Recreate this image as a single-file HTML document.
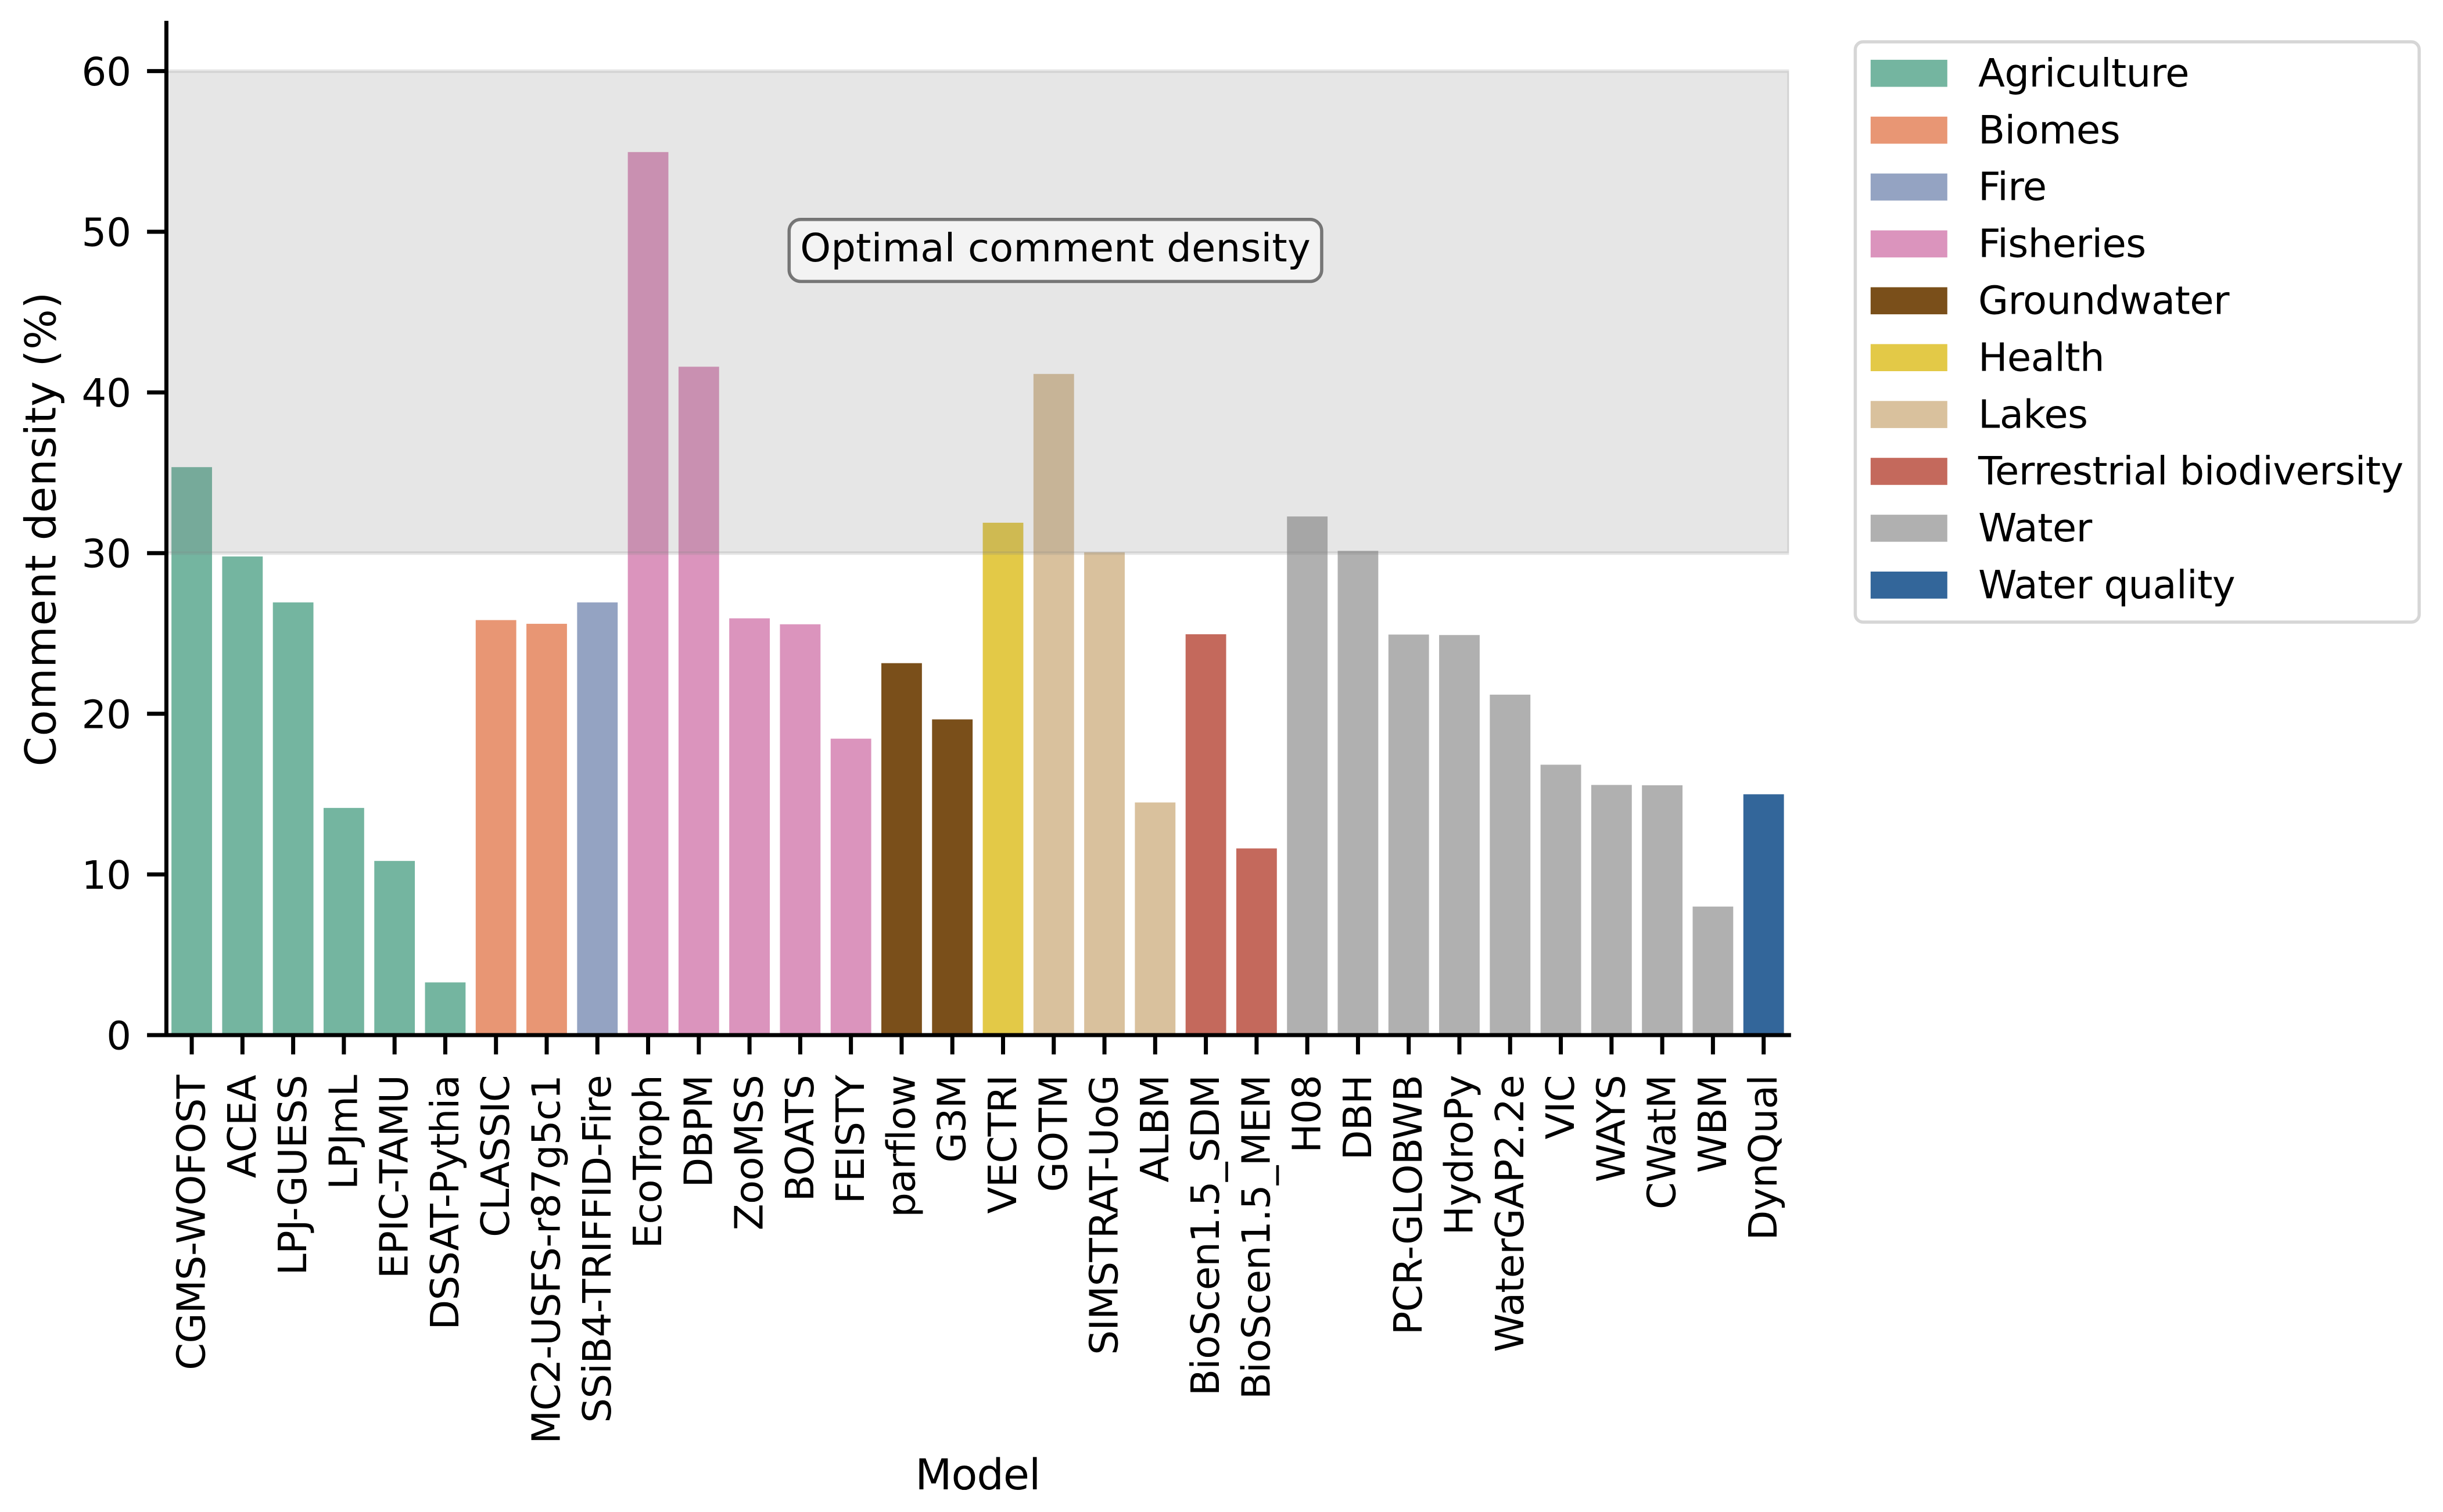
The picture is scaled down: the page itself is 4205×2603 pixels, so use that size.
<!DOCTYPE html>
<html lang="en">
<head>
<meta charset="utf-8">
<title>Comment density by model</title>
<style>
html,body{margin:0;padding:0;background:#fff;}
svg{display:block;}
text{font-family:"DejaVu Sans","Liberation Sans",sans-serif;fill:#000;text-rendering:geometricPrecision;}
</style>
</head>
<body>
<svg id="chart" xmlns="http://www.w3.org/2000/svg" width="4205" height="2603" viewBox="0 0 4205 2603"></svg>
<script>
var categories = ["CGMS-WOFOST","ACEA","LPJ-GUESS","LPJmL","EPIC-TAMU","DSSAT-Pythia","CLASSIC","MC2-USFS-r87g5c1","SSiB4-TRIFFID-Fire","EcoTroph","DBPM","ZooMSS","BOATS","FEISTY","parflow","G3M","VECTRI","GOTM","SIMSTRAT-UoG","ALBM","BioScen1.5_SDM","BioScen1.5_MEM","H08","DBH","PCR-GLOBWB","HydroPy","WaterGAP2.2e","VIC","WAYS","CWatM","WBM","DynQual"];
var commentDensity = [35.35,29.79,26.93,14.14,10.84,3.28,25.83,25.6,26.93,54.96,41.6,25.94,25.57,18.45,23.15,19.65,31.89,41.15,30.05,14.48,24.95,11.62,32.28,30.14,24.93,24.9,21.19,16.83,15.57,15.55,8.0,14.99];
var sectors = ["Agriculture","Agriculture","Agriculture","Agriculture","Agriculture","Agriculture","Biomes","Biomes","Fire","Fisheries","Fisheries","Fisheries","Fisheries","Fisheries","Groundwater","Groundwater","Health","Lakes","Lakes","Lakes","Terrestrial biodiversity","Terrestrial biodiversity","Water","Water","Water","Water","Water","Water","Water","Water","Water","Water quality"];
var legendLabels = ["Agriculture","Biomes","Fire","Fisheries","Groundwater","Health","Lakes","Terrestrial biodiversity","Water","Water quality"];
var legendColors = ["#74b5a0","#e89674","#94a3c2","#db94bd","#7a4f1a","#e3c947","#d9c19d","#c4695c","#b0b0b0","#33669a"];
var yTicks = [0,10,20,30,40,50,60];
var optimalRange = [30,60];
var yMax = 63;

var plotLeft = 286.4, plotRight = 3079.3, plotBottom = 1782, plotTop = 39.4;
var xStep = (plotRight - plotLeft) / categories.length;
var barWidth = xStep * 0.8;
var NS = "http://www.w3.org/2000/svg";
var svg = document.getElementById("chart");

function xScale(i){ return plotLeft + (i + 0.5) * xStep; }
function yScale(v){ return plotBottom - v * (plotBottom - plotTop) / yMax; }
function make(tag, attrs, parent){
  var el = document.createElementNS(NS, tag);
  for (var k in attrs) el.setAttribute(k, attrs[k]);
  (parent || svg).appendChild(el);
  return el;
}
function colorOf(sector){ return legendColors[legendLabels.indexOf(sector)]; }

/* clip */
var defs = make("defs", {});
var clip = make("clipPath", {id:"plot-clip"}, defs);
make("rect", {x:plotLeft, y:plotTop, width:plotRight-plotLeft, height:plotBottom-plotTop}, clip);

/* bars */
var barsGroup = make("g", {});


categories.forEach(function(name, i){
  var top = yScale(commentDensity[i]);
  var bar = make("rect", {x:xScale(i)-barWidth/2, y:top, width:barWidth, height:plotBottom-top, fill:colorOf(sectors[i])}, barsGroup);
  
  
});

/* optimal band */
var band = make("rect", {x:plotLeft, y:yScale(optimalRange[1]), width:plotRight-plotLeft, height:yScale(optimalRange[0])-yScale(optimalRange[1]), fill:"#808080", "fill-opacity":0.2, stroke:"#808080", "stroke-opacity":0.2, "stroke-width":6, "clip-path":"url(#plot-clip)"});



/* y ticks */
var yAxis = make("g", {});


yTicks.forEach(function(t){
  var y = yScale(t);
  var tick = make("line", {x1:plotLeft-33.3, x2:plotLeft, y1:y, y2:y, stroke:"#000", "stroke-width":7}, yAxis);
  
  
  var lab = make("text", {x:226, y:y+24.5, "text-anchor":"end", "font-size":67.2}, yAxis);
  lab.textContent = String(t);
  
  
});

/* x ticks */
var xAxis = make("g", {});


categories.forEach(function(name, i){
  var x = xScale(i);
  var tick = make("line", {x1:x, x2:x, y1:plotBottom, y2:plotBottom+33.3, stroke:"#000", "stroke-width":7}, xAxis);
  
  
  var bx = x + 22.5, by = 1851;
  var lab = make("text", {x:bx, y:by, "text-anchor":"end", "font-size":67.2, "letter-spacing":-0.72, transform:"rotate(-90 "+bx+" "+by+")"}, xAxis);
  lab.textContent = name;
  
  
});

/* spines */
var spineLeft = make("line", {x1:plotLeft, x2:plotLeft, y1:plotTop-3.5, y2:plotBottom+3.5, stroke:"#000", "stroke-width":7});


var spineBottom = make("line", {x1:plotLeft-3.5, x2:plotRight+3.5, y1:plotBottom, y2:plotBottom, stroke:"#000", "stroke-width":7});



/* axis titles */
var yTitle = make("text", {x:0, y:0, "text-anchor":"middle", "font-size":73.3, "letter-spacing":0.85, transform:"translate(95.5 910.7) rotate(-90)"});
yTitle.textContent = "Comment density (%)";


var xTitle = make("text", {x:(plotLeft+plotRight)/2, y:2564, "text-anchor":"middle", "font-size":73.3, "letter-spacing":-1});
xTitle.textContent = "Model";



/* annotation */
var noteGroup = make("g", {});


var noteBox = make("rect", {x:1358.3, y:377.8, width:916.6, height:106.7, rx:20, ry:20, fill:"#fff", "fill-opacity":0.5, stroke:"#000", "stroke-opacity":0.5, "stroke-width":5.55}, noteGroup);


var noteText = make("text", {x:1816.6, y:450, "text-anchor":"middle", "font-size":67.2, "letter-spacing":0.2}, noteGroup);
noteText.textContent = "Optimal comment density";



/* legend */
var legend = make("g", {});


var frame = make("rect", {x:3193.4, y:72, width:970.6, height:999, rx:13.4, ry:13.4, fill:"#fff", "fill-opacity":0.8, stroke:"#ccc", "stroke-opacity":0.8, "stroke-width":5.55}, legend);


legendLabels.forEach(function(label, i){
  var rowTop = 102.9 + i * 97.9;
  var swatch = make("rect", {x:3219.8, y:rowTop, width:132, height:46.6, fill:legendColors[i]}, legend);
  
  
  var txt = make("text", {x:3405, y:rowTop+46, "font-size":67.2, "letter-spacing":-0.6}, legend);
  txt.textContent = label;
  
  
});
</script>
</body>
</html>
